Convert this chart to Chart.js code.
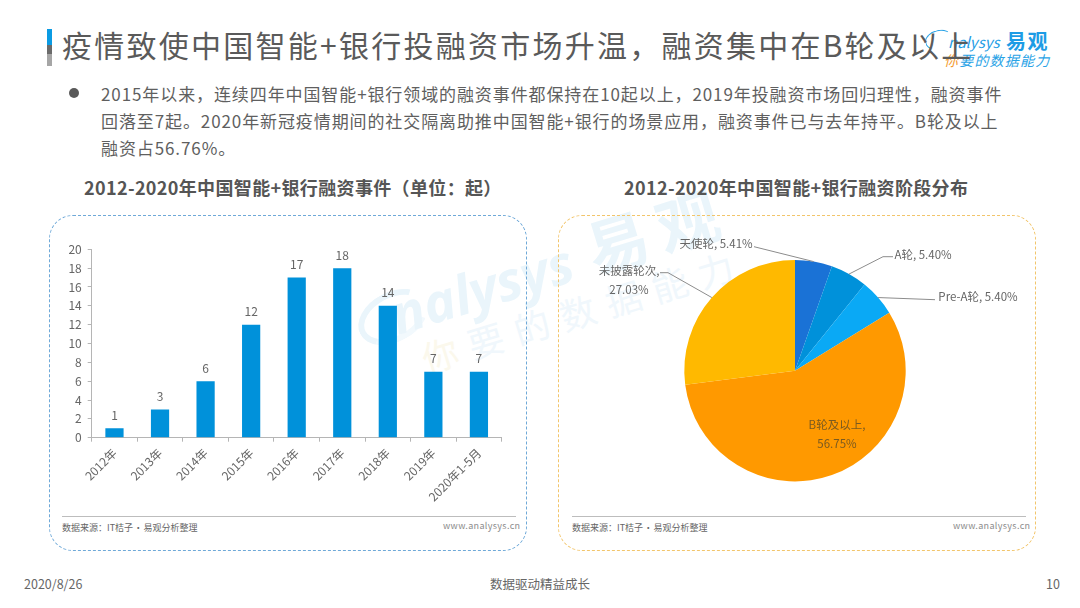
<!DOCTYPE html>
<html lang="zh">
<head>
<meta charset="utf-8">
<script src="https://cdn.jsdelivr.net/npm/chart.js@4"></script>
<style>
  html, body { margin: 0; padding: 0; background: #fff; }
  #page { position: relative; width: 1080px; height: 608px; overflow: hidden; background: #fff;
    font-family: "Noto Sans CJK SC", "Noto Sans", sans-serif; color: #595959; }
  #page > * { position: absolute; }
  .t { white-space: nowrap; line-height: 1; }
  canvas { display: block; }
  #accent { left: 47px; top: 29px; width: 5px; height: 37px;
    background: linear-gradient(#0b9be3 0 42%, #6b6b6b 42% 68%, #a6a6a6 68%); }
  #title { left: 62px; top: 29px; font-size: 30px; letter-spacing: 2.25px; color: #5a5a5a; }
  #bullet { left: 69px; top: 88px; width: 10px; height: 10px; border-radius: 50%; background: #595959; }
  .body { left: 101px; font-size: 17px; letter-spacing: 0.9px; color: #5f5f5f; }
  .sub { top: 178px; font-size: 18px; font-weight: 700; letter-spacing: 0.35px; color: #555; }
  .box { top: 215px; width: 478px; height: 336px; border-radius: 24px; box-sizing: border-box; }
  .rule { top: 516px; width: 454px; height: 1px; background: #bdbdbd; }
  .src { top: 523px; font-size: 9px; word-spacing: -1.3px; color: #666; }
  .www { top: 521px; font-size: 9px; letter-spacing: 0.35px; color: #8c8c8c; }
  .foot { top: 578px; font-size: 12.5px; color: #666; }
  .wm { color: #eaf5fb; transform-origin: left top; transform: rotate(-17deg); }
</style>
</head>
<body>
<div id="page">
  <div style="left:356px;top:292px;width:62px;height:38px;border:6px solid #eaf5fb;border-right-color:transparent;border-bottom-color:#f2f9fd;border-radius:50%;transform:rotate(-28deg);"></div>
  <div class="wm t" style="left:384px;top:289px;font-size:54px;font-weight:700;font-style:italic;font-family:'Open Sans',sans-serif;">nalysys</div>
  <div class="wm t" style="left:578px;top:219px;font-size:62px;font-weight:700;letter-spacing:11px;">易观</div>
  <div class="wm t" style="left:417px;top:341px;font-size:36px;letter-spacing:12px;color:#f0f7fc;"><span style="color:#fbf8ec">你</span>要的数据能力</div>

  <div id="accent"></div>
  <div style="left:925px;top:30px;width:26px;height:18px;border:1.5px solid #2aa3e6;border-bottom-color:transparent;border-right-color:transparent;border-radius:50%;transform:rotate(-12deg);"></div>
  <div class="t" style="left:948px;top:34px;font-size:15px;font-style:italic;color:#1d9ce5;">nalysys</div>
  <div class="t" style="left:1006px;top:31px;font-size:20px;font-weight:700;letter-spacing:1.5px;color:#1d9ce5;">易观</div>
  <div class="t" style="left:944px;top:53px;font-size:14px;font-style:italic;color:#2aa3e6;letter-spacing:1.2px;"><span style="color:#f39a2d">你</span>要的数据能力</div>
  <div id="title" class="t">疫情致使中国智能+银行投融资市场升温，融资集中在B轮及以上</div>

  <div id="bullet"></div>
  <div class="body t" style="top:85px;">2015年以来，连续四年中国智能+银行领域的融资事件都保持在10起以上，2019年投融资市场回归理性，融资事件</div>
  <div class="body t" style="top:112px;">回落至7起。2020年新冠疫情期间的社交隔离助推中国智能+银行的场景应用，融资事件已与去年持平。B轮及以上</div>
  <div class="body t" style="top:139px;">融资占56.76%。</div>

  <div class="sub t" style="left:84px;">2012-2020年中国智能+银行融资事件（单位：起）</div>
  <div class="sub t" style="left:624px;">2012-2020年中国智能+银行融资阶段分布</div>

  <div class="box" style="left:49px;border:1.4px dashed #6fa9d8;"></div>
  <div class="box" style="left:558px;border:1.4px dashed #f2c56b;"></div>

  <div style="left:50px;top:235px;width:470px;height:280px;"><canvas id="bar-chart" width="470" height="280"></canvas></div>
  <div style="left:570px;top:225px;width:450px;height:285px;"><canvas id="pie-chart" width="450" height="285"></canvas></div>

  <div class="rule" style="left:62px;"></div>
  <div class="rule" style="left:572px;"></div>
  <div class="src t" style="left:62px;">数据来源：IT桔子 · 易观分析整理</div>
  <div class="src t" style="left:572px;">数据来源：IT桔子 · 易观分析整理</div>
  <div class="www t" style="left:443px;">www.analysys.cn</div>
  <div class="www t" style="left:953px;">www.analysys.cn</div>

  <div class="foot t" style="left:24px;">2020/8/26</div>
  <div class="foot t" style="left:490px;">数据驱动精益成长</div>
  <div class="foot t" style="left:1046px;">10</div>
</div>

<script>
const years = ["2012年", "2013年", "2014年", "2015年", "2016年", "2017年", "2018年", "2019年", "2020年1-5月"];
const eventCounts = [1, 3, 6, 12, 17, 18, 14, 7, 7];
const yTickMax = 20;
const yTickStep = 2;

const stages = ["天使轮", "A轮", "Pre-A轮", "B轮及以上", "未披露轮次"];
const stageShares = [5.41, 5.40, 5.40, 56.75, 27.03];
const stageColors = ["#1a72d6", "#0091da", "#0aa9f5", "#ff9900", "#ffb900"];

const FONT = '"Noto Sans CJK SC", "Noto Sans", sans-serif';
const TEXT = "#666666";
const AXIS = "#b5b5b5";

Chart.defaults.font.family = FONT;
Chart.defaults.devicePixelRatio = 1;

const barValueLabels = {
  id: "barValueLabels",
  afterDatasetsDraw(chart) {
    const { ctx } = chart;
    ctx.save();
    ctx.font = `12px ${FONT}`;
    ctx.fillStyle = TEXT;
    ctx.textAlign = "center";
    ctx.textBaseline = "middle";
    chart.getDatasetMeta(0).data.forEach((bar, i) => {
      ctx.fillText(eventCounts[i], bar.x, bar.y - 13);
    });
    ctx.restore();
  },
};

new Chart(document.getElementById("bar-chart"), {
  type: "bar",
  data: {
    labels: years,
    datasets: [{
      data: eventCounts,
      backgroundColor: "#0091da",
      barPercentage: 0.4,
      categoryPercentage: 1,
    }],
  },
  options: {
    responsive: false,
    animation: false,
    layout: { padding: { top: 14.3, right: 18.3, left: 0, bottom: 0 } },
    plugins: { legend: { display: false }, tooltip: { enabled: false } },
    scales: {
      x: {
        afterFit: (scale) => { scale.height = 77.3; },
        grid: { drawOnChartArea: false, color: AXIS, tickLength: 4 },
        border: { color: AXIS },
        ticks: { color: TEXT, font: { size: 12 }, minRotation: 45, maxRotation: 45, autoSkip: false, padding: 4 },
      },
      y: {
        min: 0,
        max: yTickMax,
        afterFit: (scale) => { scale.width = 41.7; },
        grid: { drawOnChartArea: false, color: AXIS, tickLength: 4 },
        border: { color: AXIS },
        ticks: { stepSize: yTickStep, color: TEXT, font: { size: 12 }, padding: 6 },
      },
    },
  },
  plugins: [barValueLabels],
});

// label anchor relative to the pie centre, elbow is the bend of the leader line
const pieCallouts = [
  { lines: ["天使轮, 5.41%"], dx: -79, dy: -127, align: "center", from: [-41, -124] },
  { lines: ["A轮, 5.40%"], dx: 128, dy: -116, align: "center", from: [98, -114], elbow: [88, -114] },
  { lines: ["Pre-A轮, 5.40%"], dx: 183, dy: -74, align: "center", from: [140, -71] },
  { lines: ["B轮及以上,", "56.75%"], dx: 42, dy: 54, align: "center", lineGap: 19, inside: true },
  { lines: ["未披露轮次,", "27.03%"], dx: -166, dy: -100, align: "center", lineGap: 19, from: [-135, -98], elbow: [-127, -98] },
];

const pieCalloutLabels = {
  id: "pieCalloutLabels",
  afterDatasetsDraw(chart) {
    const { ctx } = chart;
    ctx.save();
    ctx.font = `11.5px ${FONT}`;
    ctx.textBaseline = "middle";
    chart.getDatasetMeta(0).data.forEach((arc, i) => {
      const c = pieCallouts[i];
      ctx.fillStyle = c.inside ? "#7a5a20" : TEXT;
      ctx.textAlign = c.align;
      c.lines.forEach((line, n) => {
        ctx.fillText(line, arc.x + c.dx, arc.y + c.dy + n * (c.lineGap || 0));
      });
      if (!c.from) return;
      const mid = (arc.startAngle + arc.endAngle) / 2;
      ctx.beginPath();
      ctx.moveTo(arc.x + c.from[0], arc.y + c.from[1]);
      if (c.elbow) ctx.lineTo(arc.x + c.elbow[0], arc.y + c.elbow[1]);
      ctx.lineTo(arc.x + Math.cos(mid) * arc.outerRadius, arc.y + Math.sin(mid) * arc.outerRadius);
      ctx.strokeStyle = "#8c8c8c";
      ctx.lineWidth = 1;
      ctx.stroke();
    });
    ctx.restore();
  },
};

new Chart(document.getElementById("pie-chart"), {
  type: "pie",
  data: {
    labels: stages,
    datasets: [{ data: stageShares, backgroundColor: stageColors, borderWidth: 0 }],
  },
  options: {
    responsive: false,
    animation: false,
    layout: { padding: { top: 35, bottom: 28.6, left: 0, right: 0 } },
    plugins: { legend: { display: false }, tooltip: { enabled: false } },
  },
  plugins: [pieCalloutLabels],
});
</script>
</body>
</html>
